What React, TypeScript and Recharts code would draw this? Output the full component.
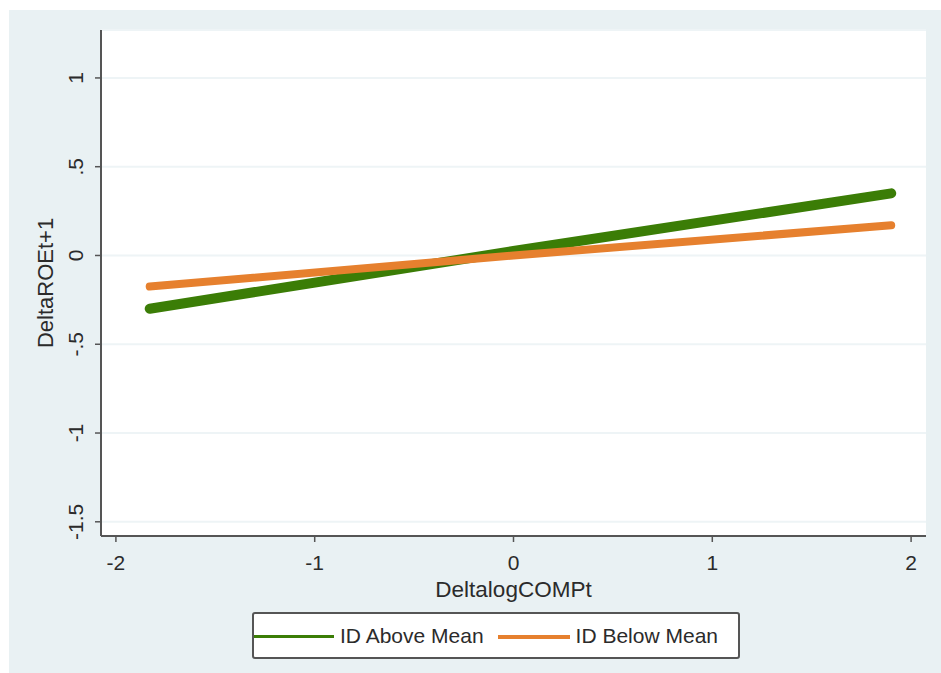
import React from 'react';
import { LineChart, Line, XAxis, YAxis, CartesianGrid, Legend } from 'recharts';

const xValues = [-1.83, 0, 1.9];
const aboveMean = [-0.3, 0.025, 0.35];
const belowMean = [-0.175, 0.0, 0.17];
const xTicks = [-2, -1, 0, 1, 2];
const yTicks = [-1.5, -1, -0.5, 0, 0.5, 1];
const yTickLabels = ['-1.5', '-1', '-.5', '0', '.5', '1'];
const seriesNames = ['ID Above Mean', 'ID Below Mean'];

const GREEN = '#3b7d06';
const ORANGE = '#e6802e';
const TEXT = '#2b2b2b';
const FONT = '"Liberation Sans", Arial, sans-serif';

const data = xValues.map((x, i) => ({ x, above: aboveMean[i], below: belowMean[i] }));

const YTick = (props: any) => {
  const { x, y, payload } = props;
  const idx = yTicks.indexOf(payload.value);
  const label = idx >= 0 ? yTickLabels[idx] : String(payload.value);
  return (
    <text
      x={x}
      y={y}
      transform={`rotate(-90, ${x}, ${y})`}
      textAnchor="middle"
      fill={TEXT}
      fontSize={21}
      fontFamily={FONT}
    >
      {label}
    </text>
  );
};

const XTick = (props: any) => {
  const { x, y, payload } = props;
  return (
    <text x={x} y={y} dy="0.71em" textAnchor="middle" fill={TEXT} fontSize={21} fontFamily={FONT}>
      {String(payload.value)}
    </text>
  );
};

const LegendContent = (props: any) => {
  const payload = props.payload || [];
  return (
    <div
      style={{
        boxSizing: 'border-box',
        width: 488,
        height: 47,
        border: '2px solid #555',
        borderRadius: 3,
        background: '#fff',
        display: 'flex',
        alignItems: 'center',
        fontFamily: FONT,
        fontSize: 21,
        color: TEXT,
        whiteSpace: 'nowrap',
      }}
    >
      {payload.map((p: any, i: number) => (
        <div key={i} style={{ display: 'flex', alignItems: 'center', marginLeft: i === 0 ? 0 : 14 }}>
          <div
            style={{
              width: i === 0 ? 80 : 72,
              height: i === 0 ? 3 : 4,
              background: p.color,
              marginRight: 6,
              marginTop: 2,
            }}
          />
          <span>{p.value}</span>
        </div>
      ))}
    </div>
  );
};

export default function App() {
  return (
    <div style={{ position: 'absolute', left: 0, top: 0, width: 941, height: 673, background: '#fff', overflow: 'hidden' }}>
      <div style={{ position: 'absolute', left: 9, top: 10, width: 932, height: 663, background: '#e9f1f3' }} />
      <div style={{ position: 'absolute', left: 0, top: 0 }}>
        <LineChart
          width={941}
          height={673}
          data={data}
          margin={{ top: 30, right: 15, bottom: 97, left: 41 }}
        >
          <CartesianGrid vertical={false} horizontal={true} stroke="#eef4f6" strokeWidth={2} fill="#ffffff" />
          <XAxis
            dataKey="x"
            type="number"
            domain={[-2.075, 2.075]}
            ticks={xTicks}
            allowDataOverflow
            height={40}
            axisLine={{ stroke: '#555', strokeWidth: 2 }}
            tickLine={{ stroke: '#555', strokeWidth: 1.5 }}
            tickSize={6}
            tickMargin={13}
            tick={<XTick />}
            label={(lp: any) => {
              const vb = lp.viewBox || {};
              return (
                <text
                  x={vb.x + vb.width / 2}
                  y={vb.y + 61}
                  textAnchor="middle"
                  fill={TEXT}
                  fontSize={22.5}
                  fontFamily={FONT}
                >
                  DeltalogCOMPt
                </text>
              );
            }}
          />
          <YAxis
            type="number"
            domain={[-1.58, 1.27]}
            ticks={yTicks}
            allowDataOverflow
            width={60}
            axisLine={{ stroke: '#555', strokeWidth: 2 }}
            tickLine={{ stroke: '#555', strokeWidth: 1.5 }}
            tickSize={6}
            tickMargin={12}
            tick={<YTick />}
            label={(lp: any) => {
              const vb = lp.viewBox || {};
              const cx = 53;
              const cy = vb.y + vb.height / 2;
              return (
                <text
                  x={cx}
                  y={cy}
                  transform={`rotate(-90, ${cx}, ${cy})`}
                  textAnchor="middle"
                  fill={TEXT}
                  fontSize={22}
                  fontFamily={FONT}
                >
                  DeltaROEt+1
                </text>
              );
            }}
          />
          <Line
            dataKey="above"
            name={seriesNames[0]}
            stroke={GREEN}
            strokeWidth={10}
            strokeLinecap="round"
            dot={false}
            activeDot={false}
            isAnimationActive={false}
          />
          <Line
            dataKey="below"
            name={seriesNames[1]}
            stroke={ORANGE}
            strokeWidth={8}
            strokeLinecap="round"
            dot={false}
            activeDot={false}
            isAnimationActive={false}
          />
          <Legend
            verticalAlign="middle"
            content={<LegendContent />}
            wrapperStyle={{ position: 'absolute', left: 252, top: 612, width: 488, height: 47, bottom: 'auto' }}
          />
        </LineChart>
      </div>
    </div>
  );
}
